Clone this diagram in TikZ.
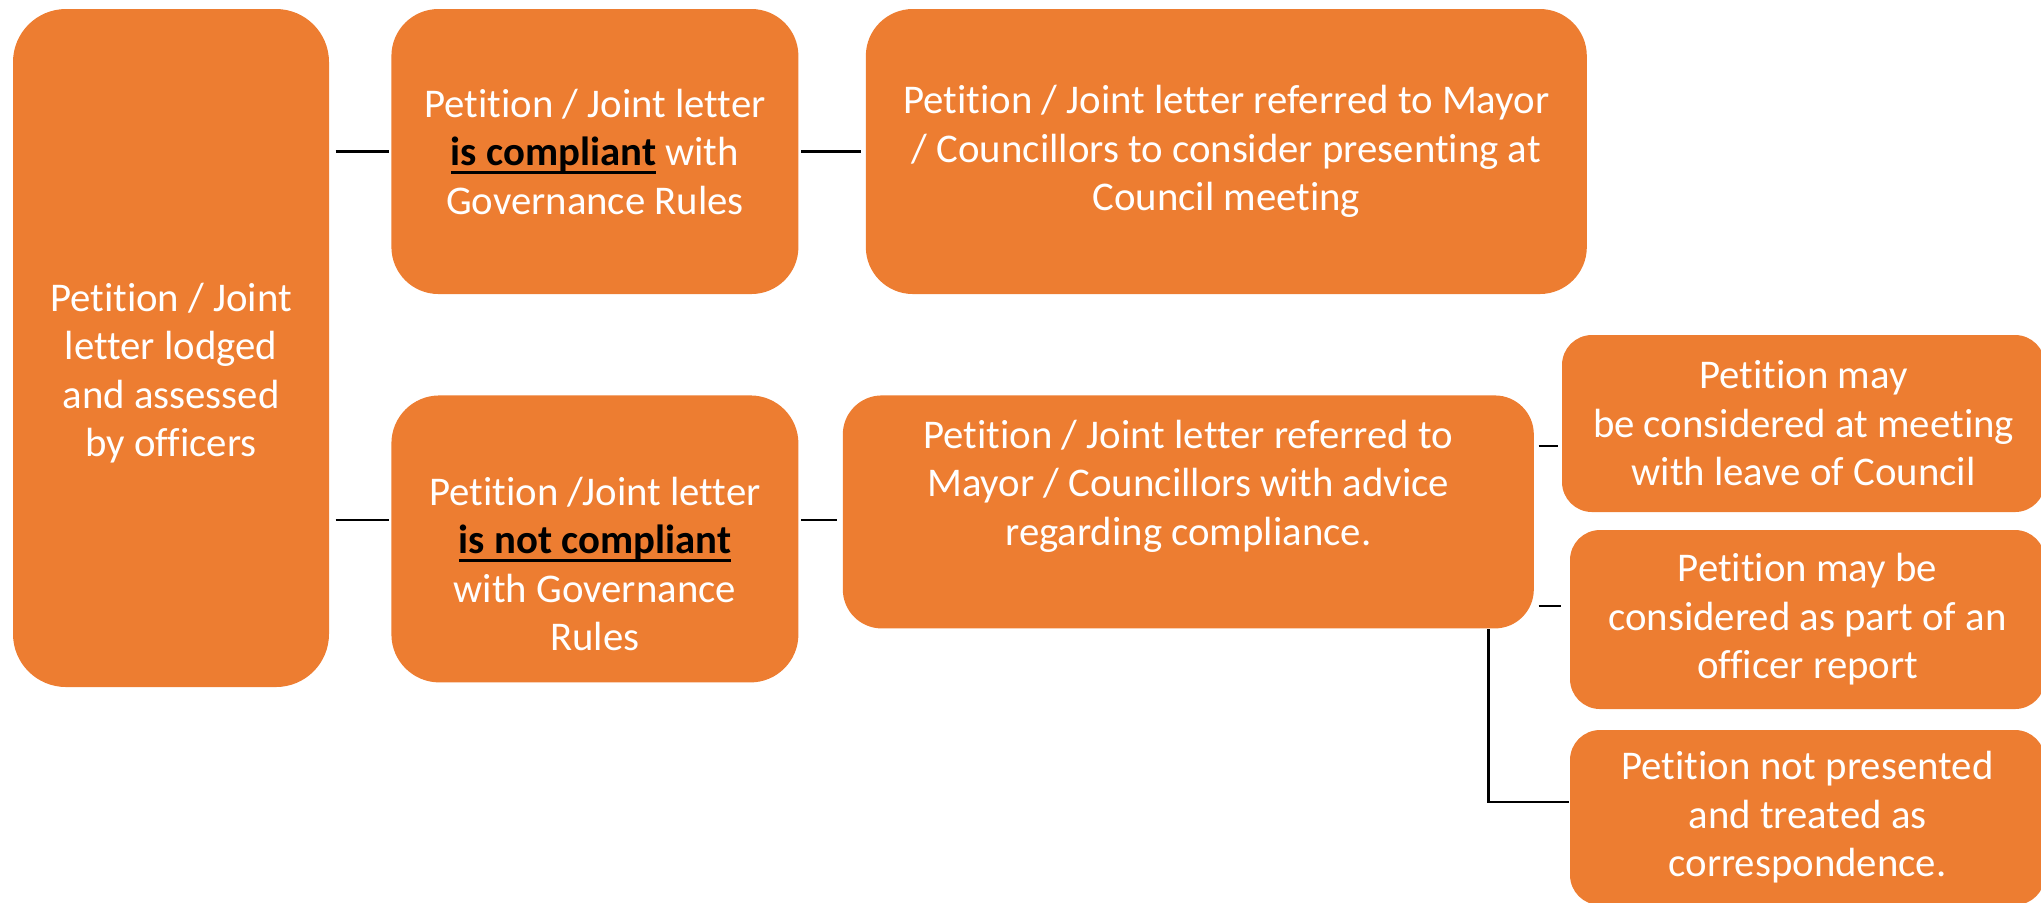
\documentclass[tikz,border=0pt]{standalone}
\usepackage{fontspec}
\setmainfont{Carlito}[Ligatures={NoCommon}]
\usetikzlibrary{positioning}
\definecolor{boxorange}{HTML}{ED7D31}
\newcommand{\thickul}[1]{\setbox0\hbox{#1}\rlap{\rule[-2.4pt]{\wd0}{0.9pt}}\box0}

\begin{document}
\begin{tikzpicture}[
    node distance=0.6cm,
    every node/.style={font=\fontsize{11.6}{13.8}\selectfont},
    box/.style={
        fill=boxorange,
        text=white,
        align=center,
        inner sep=0pt
    },
    txt/.style={text=white, align=center},
    link/.style={draw=black, line width=0.6pt}
]
\useasboundingbox (0,0) rectangle (20.41,-9.02);

% Lodged
\node[box, rounded corners=0.53cm, minimum width=3.16cm, minimum height=6.78cm,
    label={[txt, yshift=-2.5mm]center:{Petition / Joint\\letter lodged\\and assessed\\by officers}}]
    (lodged) at (1.71,-3.48) {};

% Compliant branch
\node[box, rounded corners=0.47cm, minimum width=4.07cm, minimum height=2.85cm,
    right=0.61cm of lodged.north east, anchor=north west] (compliant)
{Petition / Joint letter\\
\textcolor{black}{\thickul{\textbf{is compliant}}} with\\
Governance Rules};

\node[box, rounded corners=0.47cm, minimum width=7.21cm, minimum height=2.85cm,
    right=0.66cm of compliant] (presenting)
{Petition / Joint letter referred to Mayor\\
/ Councillors to consider presenting at\\
Council meeting};

% Not compliant branch
\node[box, rounded corners=0.48cm, minimum width=4.07cm, minimum height=2.87cm,
    below=1.0cm of compliant,
    label={[txt, yshift=-2.5mm]center:{Petition /Joint letter\\
    \textcolor{black}{\thickul{\textbf{is not compliant}}}\\
    with Governance\\Rules}}] (notcomp) {};

\node[box, rounded corners=0.39cm, minimum width=6.91cm, minimum height=2.33cm,
    right=0.43cm of notcomp.north east, anchor=north west,
    label={[txt, yshift=2.6mm]center:{Petition / Joint letter referred to\\
    Mayor / Councillors with advice\\
    regarding compliance.}}] (advice) {};

% Outcomes
\node[box, rounded corners=0.30cm, minimum width=4.83cm, minimum height=1.77cm]
    (leave) at (18.035,-4.235)
{Petition may\\be considered at meeting\\with leave of Council};

\node[box, rounded corners=0.30cm, minimum width=4.75cm, minimum height=1.79cm]
    (report) at (18.075,-6.195)
{Petition may be\\considered as part of an\\officer report};

\node[box, rounded corners=0.30cm, minimum width=4.75cm, minimum height=1.75cm]
    (corresp) at (18.075,-8.175)
{Petition not presented\\and treated as\\correspondence.};

% Links
\draw[link, shorten <=0.06cm, shorten >=0.02cm] (compliant.west -| lodged.east) -- (compliant.west);
\draw[link, shorten <=0.02cm, shorten >=0.04cm] (compliant) -- (presenting);
\draw[link, shorten <=0.06cm, shorten >=0.02cm]
    ([yshift=1.85mm]notcomp.west -| lodged.east) -- ([yshift=1.85mm]notcomp.west);
\draw[link, shorten <=0.02cm, shorten >=0.05cm]
    ([yshift=1.85mm]notcomp.east) -- ([yshift=1.85mm]notcomp.east -| advice.west);
\draw[link, shorten <=0.04cm, shorten >=0.03cm]
    ([yshift=-2.25mm]leave.west -| advice.east) -- ([yshift=-2.25mm]leave.west);
\draw[link, shorten <=0.04cm, shorten >=0.08cm]
    ([yshift=1.35mm]report.west -| advice.east) -- ([yshift=1.35mm]report.west);
\draw[link] ([xshift=-0.46cm]advice.south east) |- ([yshift=1.55mm]corresp.west);

\end{tikzpicture}
\end{document}
